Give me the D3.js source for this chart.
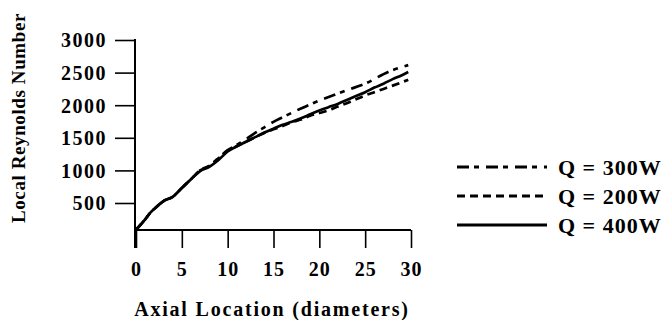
<!DOCTYPE html>
<html>
<head>
<meta charset="utf-8">
<script src="https://cdn.jsdelivr.net/npm/d3@7"></script>
<style>
  html, body { margin: 0; padding: 0; background: #fff; }
  svg { display: block; }
  text { font-family: 'Liberation Serif', 'Times New Roman', serif; font-weight: bold; fill: #000; }
</style>
</head>
<body>
<svg id="chart" width="672" height="320"></svg>
<script>
// Axial position in pipe diameters
const xTicks = [0, 5, 10, 15, 20, 25, 30];
const yTicks = [500, 1000, 1500, 2000, 2500, 3000];

// Local Reynolds number along the tube for each heat input
const x400 = [0, 1, 1.5, 2, 3, 4, 5, 6, 7, 8, 9, 10, 11, 12, 13, 14, 15, 16, 17, 18, 19, 20, 21, 22, 23, 24, 25, 26, 27, 28, 29, 29.7];
const re400 = [90, 250, 340, 410, 530, 595, 730, 865, 990, 1055, 1160, 1290, 1370, 1440, 1510, 1580, 1640, 1700, 1745, 1800, 1860, 1920, 1970, 2020, 2080, 2140, 2200, 2270, 2330, 2400, 2460, 2510];

const x300 = [0, 1, 1.5, 2, 3, 4, 5, 6, 7, 8, 9, 10, 11, 12, 13, 14, 15, 16, 18, 20, 23, 25, 27.5, 29.7];
const re300 = [90, 250, 340, 410, 530, 595, 730, 865, 1000, 1065, 1190, 1310, 1390, 1480, 1575, 1660, 1745, 1815, 1950, 2070, 2230, 2330, 2510, 2615];

const x200 = [0, 1, 1.5, 2, 3, 4, 5, 6, 7, 8, 9, 10, 11, 12, 13, 14, 15, 16, 17, 18, 19, 20, 21, 22, 23, 24, 25, 26, 27, 28, 29.7];
const re200 = [90, 250, 340, 410, 530, 595, 730, 865, 1005, 1070, 1185, 1300, 1370, 1440, 1510, 1575, 1630, 1680, 1740, 1780, 1840, 1880, 1920, 1980, 2030, 2090, 2150, 2200, 2250, 2300, 2390];

const seriesNames = ["Q = 300W", "Q = 200W", "Q = 400W"];
const seriesX = [x300, x200, x400];
const seriesY = [re300, re200, re400];
const dashes = ["12,5,5,7", "8,5", null];

const svg = d3.select("#chart");

const x = d3.scaleLinear().domain([0, 30]).range([136, 411]);
const y = d3.scaleLinear().domain([0, 3000]).range([235.6, 40]);
const yBase = 230; // where the horizontal axis sits

// Y axis
const yAxis = d3.axisLeft(y).tickValues(yTicks).tickSize(20).tickPadding(8).tickFormat(d3.format("d"));
const gy = svg.append("g").attr("transform", "translate(135,0)").call(yAxis);
gy.select(".domain").remove();
gy.append("line").attr("x1", 0).attr("x2", 0).attr("y1", y(3000) - 1).attr("y2", yBase + 18)
  .attr("stroke", "#000").attr("stroke-width", 2);
gy.selectAll(".tick line").attr("stroke", "#000").attr("stroke-width", 1.6);
gy.selectAll(".tick text").style("font-size", "20px").style("letter-spacing", "1.5px")
  .style("font-family", "'Liberation Serif', serif").style("font-weight", "bold").attr("dy", "0.34em");

// X axis
const xAxis = d3.axisBottom(x).tickValues(xTicks).tickSize(18).tickPadding(14).tickFormat(d3.format("d"));
const gx = svg.append("g").attr("transform", `translate(0,${yBase})`).call(xAxis);
gx.select(".domain").remove();
gx.append("line").attr("x1", x(0)).attr("x2", x(30)).attr("y1", 0).attr("y2", 0)
  .attr("stroke", "#000").attr("stroke-width", 2.2);
gx.selectAll(".tick line").attr("stroke", "#000").attr("stroke-width", 1.6);
gx.selectAll(".tick text").style("font-size", "20px").style("letter-spacing", "1px")
  .style("font-family", "'Liberation Serif', serif").style("font-weight", "bold");

// Curves
const line = d3.line().curve(d3.curveMonotoneX);
seriesNames.forEach((name, i) => {
  const pts = seriesX[i].map((xv, j) => [x(xv), y(seriesY[i][j])]);
  const p = svg.append("path").attr("d", line(pts)).attr("fill", "none")
    .attr("stroke", "#000").attr("stroke-width", 2.7).attr("stroke-linecap", "butt");
  if (dashes[i]) p.attr("stroke-dasharray", dashes[i]);
});

// Legend
const legendRows = [167, 196, 225];
seriesNames.forEach((name, i) => {
  const ly = legendRows[i];
  const l = svg.append("line").attr("x1", 457).attr("x2", 547).attr("y1", ly).attr("y2", ly)
    .attr("stroke", "#000").attr("stroke-width", i === 2 ? 3 : 2.8);
  if (dashes[i]) l.attr("stroke-dasharray", dashes[i]);
  svg.append("text").attr("x", 558).attr("y", ly).attr("dy", "0.35em")
    .style("font-size", "22px").style("letter-spacing", "1px").text(name);
});

// Axis titles
svg.append("text").attr("x", 272).attr("y", 316).attr("text-anchor", "middle")
  .style("font-size", "20px").style("letter-spacing", "1.8px").text("Axial Location (diameters)");
svg.append("text").attr("transform", "translate(25,118) rotate(-90)").attr("text-anchor", "middle")
  .style("font-size", "19px").style("letter-spacing", "0.6px").text("Local Reynolds Number");
</script>
</body>
</html>
